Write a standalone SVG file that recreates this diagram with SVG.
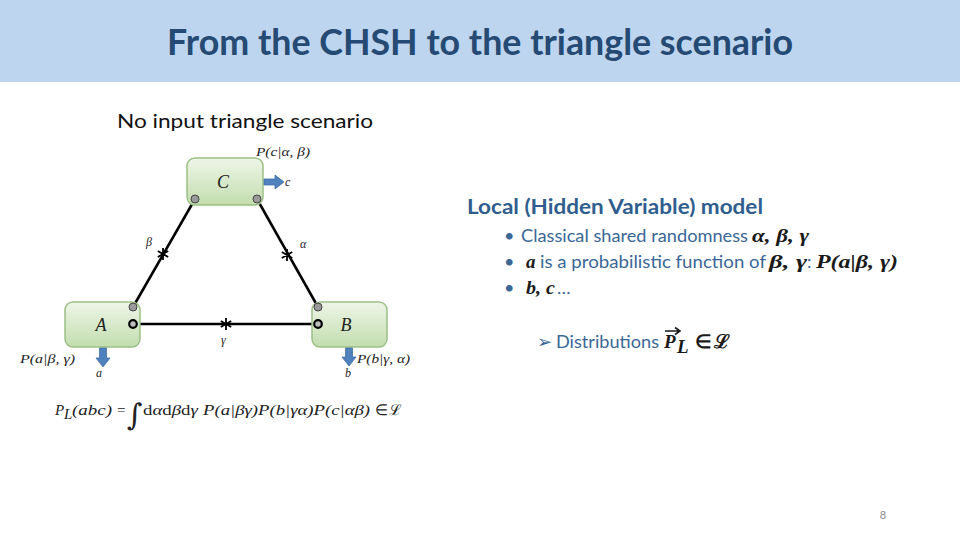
<svg xmlns="http://www.w3.org/2000/svg" width="960" height="540" viewBox="0 0 960 540">
<defs>
<linearGradient id="gbox" x1="0" y1="0" x2="0" y2="1">
<stop offset="0" stop-color="#EEF6E8"/>
<stop offset="1" stop-color="#C2DDAE"/>
</linearGradient>
<g id="star">
<path d="M0,-6V6M-5.2,-3L5.2,3M-5.2,3L5.2,-3" stroke="#000" stroke-width="1.8" fill="none"/>
</g>
</defs>
<style>
.box{fill:url(#gbox);stroke:#9CC085;stroke-width:1.5}
.lbl{font-family:"Liberation Serif",serif;font-style:italic;font-size:18px;fill:#222}
.sm{font-family:"Liberation Serif",serif;font-style:italic;font-size:12px;fill:#222}
.gport{fill:#9A9A9A;stroke:#444;stroke-width:1}
.bport{fill:#BDBDBD;stroke:#000;stroke-width:2.2}
.arr{fill:#4F81BD;stroke:#3F70A8;stroke-width:0.8}
.edge{stroke:#000;stroke-width:2.6;fill:none}
.body{font-family:Lato,"Open Sans",sans-serif;font-size:18px;fill:#3A6796}
.math{font-family:"Liberation Serif",serif;font-style:italic;font-weight:bold;font-size:19px;fill:#1a1a1a}
.fm{font-family:"Liberation Serif",serif;font-style:italic;font-size:15px;fill:#222}
.up{font-style:normal}
</style>
<rect x="0" y="0" width="960" height="82" fill="#BED5F0"/>
<text x="167" y="55" font-family="Lato,'Open Sans',sans-serif" font-weight="bold" font-size="37" fill="#254A73" textLength="626" lengthAdjust="spacingAndGlyphs">From the CHSH to the triangle scenario</text>
<text x="117" y="128" font-family="Lato,'Open Sans',sans-serif" font-size="20" fill="#111" textLength="256" lengthAdjust="spacingAndGlyphs">No input triangle scenario</text>

<g id="connectors">
<line class="edge" x1="195" y1="199" x2="133" y2="307"/>
<line class="edge" x1="257" y1="199" x2="318" y2="307"/>
<line class="edge" x1="133" y1="324" x2="318" y2="324"/>
<use href="#star" x="163" y="254"/>
<use href="#star" x="287" y="255"/>
<use href="#star" x="226" y="324"/>
<text class="sm" x="146" y="246">β</text>
<text class="sm" x="300" y="248">α</text>
<text class="sm" x="221" y="344">γ</text>
</g>

<g id="node-C">
<rect class="box" x="187" y="158" width="76" height="47" rx="8"/>
<text class="lbl" x="223" y="188" text-anchor="middle">C</text>
<path class="arr" d="M264,179H275V175L284,182L275,189V185H264Z"/>
<text class="sm" x="285" y="186">c</text>
<text class="sm" x="256" y="156" textLength="54" lengthAdjust="spacingAndGlyphs">P(c|α, β)</text>
<circle class="gport" cx="195" cy="199" r="4"/>
<circle class="gport" cx="257" cy="199" r="4"/>
</g>

<g id="node-A">
<rect class="box" x="65" y="302" width="75" height="45" rx="8"/>
<text class="lbl" x="101" y="331" text-anchor="middle">A</text>
<path class="arr" d="M99.5,348H106.5V358H110L103,367L96,358H99.5Z"/>
<text class="sm" x="99" y="377" text-anchor="middle">a</text>
<text class="sm" x="20" y="363" textLength="55" lengthAdjust="spacingAndGlyphs">P(a|β, γ)</text>
<circle class="gport" cx="133" cy="307" r="4"/>
<circle class="bport" cx="133" cy="324" r="3.8"/>
</g>

<g id="node-B">
<rect class="box" x="312" y="302" width="75" height="45" rx="8"/>
<text class="lbl" x="346" y="331" text-anchor="middle">B</text>
<path class="arr" d="M345.5,348H352.5V357H356L349,366L342,357H345.5Z"/>
<text class="sm" x="348" y="377" text-anchor="middle">b</text>
<text class="sm" x="357" y="363" textLength="53" lengthAdjust="spacingAndGlyphs">P(b|γ, α)</text>
<circle class="gport" cx="318" cy="307" r="4"/>
<circle class="bport" cx="318" cy="324" r="3.8"/>
</g>

<g id="formula">
<text class="fm" x="55" y="415">P</text>
<text class="fm" x="64" y="419" font-size="9">L</text>
<text class="fm" x="72" y="415" textLength="40" lengthAdjust="spacingAndGlyphs">(abc)</text>
<text class="fm up" x="117" y="415">=</text>
<text x="127" y="425" font-family="'DejaVu Serif',serif" font-size="30" fill="#222">∫</text>
<text class="fm" x="143" y="415" textLength="55" lengthAdjust="spacingAndGlyphs"><tspan class="up">d</tspan>α<tspan class="up">d</tspan>β<tspan class="up">d</tspan>γ</text>
<text class="fm" x="203" y="415" textLength="167" lengthAdjust="spacingAndGlyphs">P(a|βγ)P(b|γα)P(c|αβ)</text>
<text class="fm up" x="375" y="415">∈</text>
<text class="fm up" x="389" y="415" font-family="'DejaVu Serif',serif" font-size="14">ℒ</text>
</g>

<g id="model-text">
<text x="467" y="214" font-family="Lato,'Open Sans',sans-serif" font-weight="bold" font-size="20" fill="#2F5E8E" textLength="296" lengthAdjust="spacingAndGlyphs">Local (Hidden Variable) model</text>
<text class="body" x="504" y="242" font-size="15">•</text>
<text class="body" x="521" y="242" textLength="227" lengthAdjust="spacingAndGlyphs">Classical shared randomness</text>
<text class="math" x="752" y="242" textLength="57" lengthAdjust="spacingAndGlyphs">α, β, γ</text>
<text class="body" x="504" y="268" font-size="15">•</text>
<text class="math" x="526" y="268">a</text>
<text class="body" x="540" y="268" textLength="226" lengthAdjust="spacingAndGlyphs">is a probabilistic function of</text>
<text class="math" x="769" y="268" textLength="38" lengthAdjust="spacingAndGlyphs">β, γ</text>
<text class="body" x="807" y="268">:</text>
<text class="math" x="816" y="268" textLength="82" lengthAdjust="spacingAndGlyphs">P(a|β, γ)</text>
<text class="body" x="504" y="294" font-size="15">•</text>
<text class="math" x="526" y="294" textLength="29" lengthAdjust="spacingAndGlyphs">b, c</text>
<text class="body" x="557" y="294" fill="#1a1a1a" font-size="14">…</text>
<text class="body" x="537" y="348" font-family="'DejaVu Sans',sans-serif" font-size="14">➢</text>
<text class="body" x="556" y="348" textLength="103" lengthAdjust="spacingAndGlyphs">Distributions</text>
<text class="math" x="664" y="348">P</text>
<text class="math" x="677" y="353" font-size="12">L</text>
<path d="M665,331H679M675,327.5L680,331L675,334.5" stroke="#1a1a1a" stroke-width="1.6" fill="none"/>
<text class="math up" x="695" y="348" font-size="16">∈</text>
<text class="math up" x="714" y="348" font-family="'DejaVu Serif',serif" font-size="16">ℒ</text>
</g>

<text x="883" y="519" font-family="Lato,sans-serif" font-size="11" fill="#8A8A8A" text-anchor="middle">8</text>
</svg>
